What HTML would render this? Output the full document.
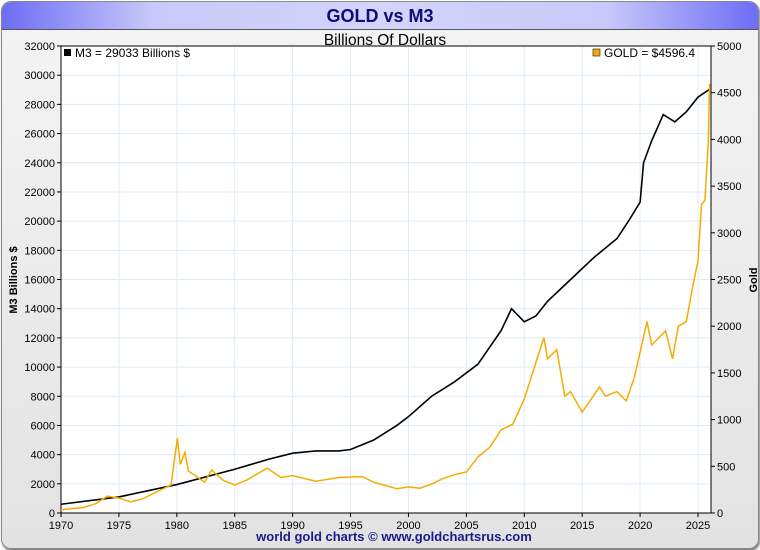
<!DOCTYPE html>
<html><head><meta charset="utf-8"><style>
body{margin:0;background:#fff;font-family:"Liberation Sans",sans-serif}
#frame{position:absolute;left:1px;top:1px;width:756px;height:546px;border:1px solid #888;border-radius:10px;background:linear-gradient(#f4f4f4,#e2e2e2);overflow:hidden;box-shadow:1px 2px 2px #777}
#hdr{position:absolute;left:0;top:0;width:756px;height:27px;background:linear-gradient(90deg,#6d6df5,#c8c8fa 20%,#d4d4fc 50%,#c8c8fa 80%,#6d6df5);border-bottom:1px solid #555;text-align:center;font:bold 18px "Liberation Sans",sans-serif;color:#0e0e78;line-height:28px}
svg{position:absolute;left:0;top:0}
</style></head><body>
<div id="frame"><div id="hdr">GOLD vs M3</div></div>
<svg id="c" width="760" height="550"></svg>
<script>
const xTicks=[1970,1975,1980,1985,1990,1995,2000,2005,2010,2015,2020,2025];
const yLeftTicks=[0,2000,4000,6000,8000,10000,12000,14000,16000,18000,20000,22000,24000,26000,28000,30000,32000];
const yRightTicks=[0,500,1000,1500,2000,2500,3000,3500,4000,4500,5000];
const m3Years=[1970,1975,1980,1985,1988,1990,1992,1994,1995,1997,1999,2000,2002,2004,2006,2008,2008.9,2010,2011,2012,2014,2016,2018,2019,2020.0,2020.3,2021,2022,2023,2024,2025,2026];
const m3Values=[600,1100,1950,3000,3700,4100,4250,4250,4350,5000,6000,6600,8000,9000,10200,12500,14000,13100,13500,14500,16000,17500,18800,20000,21300,24000,25500,27300,26800,27500,28500,29033];
const goldYears=[1970,1972,1973,1974,1975,1976,1977,1978,1979.5,1980.05,1980.3,1980.7,1981,1982.4,1983,1984,1985,1986,1987.8,1989,1990,1992,1994,1996,1997,1999,2000,2001,2002,2003,2004,2005,2006,2007,2008,2009,2010,2011.7,2012,2012.8,2013.5,2014,2015,2016.5,2017,2018,2018.8,2019.5,2020.6,2021,2022.2,2022.8,2023.3,2024,2024.5,2025,2025.3,2025.6,2025.9,2026];
const goldValues=[35,60,100,180,160,120,150,210,300,800,520,650,450,330,460,350,300,350,480,380,400,340,380,390,330,260,280,265,310,370,410,440,600,700,890,950,1220,1880,1650,1750,1250,1300,1080,1350,1250,1300,1200,1450,2050,1800,1950,1650,2000,2050,2400,2700,3300,3350,4000,4596];
const X0=61,X1=711,T0=46,B=513;
const xs=y=>X0+(y-1970)*(698-61)/55;
const yl=v=>B-v*(B-T0)/32000;
const yr=v=>B-v*(B-T0)/5000;
const s=document.getElementById('c');const NS='http://www.w3.org/2000/svg';
function mk(t,a,txt){const e=document.createElementNS(NS,t);for(const k in a)e.setAttribute(k,a[k]);if(txt!=null)e.textContent=txt;s.appendChild(e);return e;}
let e=mk('rect',{x:X0,y:T0,width:X1-X0,height:B-T0,fill:'#fff'});

yLeftTicks.forEach(v=>{const y=yl(v);
e=mk('line',{x1:X0,x2:X1,y1:y,y2:y,stroke:'#dcebf7','stroke-width':1});
e=mk('line',{x1:X0-4,x2:X0,y1:y,y2:y,stroke:'#000'});
e=mk('text',{x:X0-6,y:y+4,'text-anchor':'end','font-size':11},v);});
xTicks.forEach(v=>{const x=xs(v);
e=mk('line',{x1:x,x2:x,y1:T0,y2:B,stroke:'#dcebf7'});
e=mk('line',{x1:x,x2:x,y1:B,y2:B+4,stroke:'#000'});
e=mk('text',{x:x,y:B+16,'text-anchor':'middle','font-size':11},v);});
yRightTicks.forEach(v=>{const y=yr(v);
e=mk('line',{x1:X1,x2:X1+4,y1:y,y2:y,stroke:'#000'});
e=mk('text',{x:X1+6,y:y+4,'font-size':11},v);});
e=mk('rect',{x:X0,y:T0,width:X1-X0,height:B-T0,fill:'none',stroke:'#000'});
e=mk('polyline',{points:m3Years.map((y,i)=>xs(y)+','+yl(m3Values[i])).join(' '),fill:'none',stroke:'#000','stroke-width':1.6});

e=mk('polyline',{points:goldYears.map((y,i)=>xs(y)+','+yr(goldValues[i])).join(' '),fill:'none',stroke:'#f5ac00','stroke-width':1.5});

e=mk('text',{x:385,y:45,'text-anchor':'middle','font-size':15.5},'Billions Of Dollars');
e=mk('text',{x:17,y:280,'text-anchor':'middle','font-size':11,'font-weight':'bold',transform:'rotate(-90 17 280)'},'M3 Billions $');
e=mk('text',{x:757,y:280,'text-anchor':'middle','font-size':11,'font-weight':'bold',transform:'rotate(-90 757 280)'},'Gold');
e=mk('rect',{x:64,y:49,width:7,height:7,fill:'#000'});
e=mk('text',{x:75,y:57,'font-size':12},'M3 = 29033 Billions $');
e=mk('rect',{x:593,y:49,width:7,height:7,fill:'#f5ac00',stroke:'#333','stroke-width':0.7});
e=mk('text',{x:604,y:57,'font-size':12},'GOLD  = $4596.4');
e=mk('text',{x:394,y:541,'text-anchor':'middle','font-size':13,'font-weight':'bold',fill:'#1a1a8c'},'world gold charts © www.goldchartsrus.com');
</script>
</body></html>
